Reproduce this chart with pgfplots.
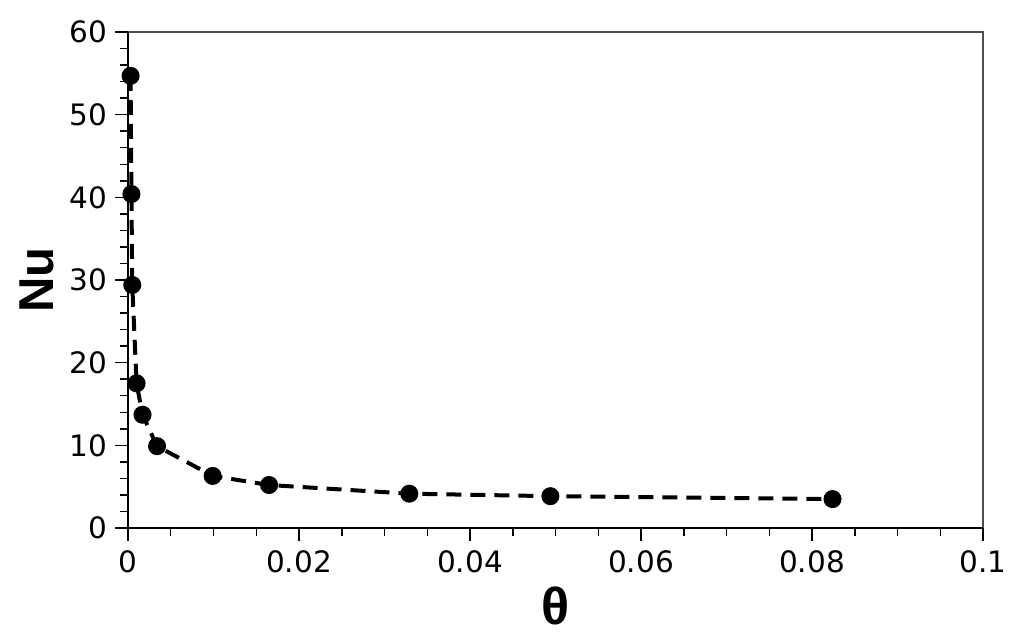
\documentclass[border=0pt]{standalone}
\usepackage{pgfplots}
\pgfplotsset{compat=1.18}
\usepackage{fontspec}
\setmainfont{DejaVu Sans}
\newfontfamily\labfont{Liberation Sans}
\begin{document}
\begin{tikzpicture}
\begin{axis}[
  at={(0,0)}, anchor=origin,
  scale only axis,
  width=855pt, height=496pt,
  xmin=0, xmax=0.1, ymin=0, ymax=60,
  xtick={0,0.02,0.04,0.06,0.08,0.1},
  xticklabels={0,0.02,0.04,0.06,0.08,0.1},
  ytick={0,10,20,30,40,50,60},
  minor x tick num=3, minor y tick num=4,
  tick align=outside, xtick pos=bottom, ytick pos=left,
  major tick length=13pt, minor tick length=8pt,
  every tick/.style={black, line width=1.5pt},
  axis line style={draw=none},
  /pgf/number format/assume math mode=true,
  tick label style={font=\fontsize{29.5}{31}\selectfont},
  xticklabel style={inner sep=0pt, yshift=-9pt},
  yticklabel style={inner sep=0pt, xshift=-8pt},
  xlabel={\labfont\bfseries θ},
  ylabel={\labfont\bfseries Nu},
  xlabel style={at={(rel axis cs:0.5,0)}, anchor=center, yshift=-78pt, font=\fontsize{52}{54}\selectfont},
  ylabel style={at={(rel axis cs:0,0.5)}, anchor=center, yshift=91pt, font=\fontsize{49}{51}\selectfont},
  clip=false,
]
\addplot[black, line width=4pt, dash pattern=on 15pt off 9pt,
  mark=*, mark size=7pt, mark options={solid, fill=black}]
  coordinates {
  (0.0003,54.7) (0.0004,40.4) (0.0005,29.4) (0.0010,17.5) (0.0017,13.7)
  (0.0034,9.9) (0.0099,6.3) (0.0165,5.2) (0.0329,4.15) (0.0494,3.85) (0.0824,3.5)
  };
\draw[black!70, line width=2pt] (rel axis cs:0,1) -- (rel axis cs:1,1) -- (rel axis cs:1,0);
\draw[black, line width=2.6pt] (rel axis cs:0,1) -- (rel axis cs:0,0) -- (rel axis cs:1,0);
\end{axis}
\pgfresetboundingbox
\path (-128pt,-116pt) rectangle (896pt,528pt);
\end{tikzpicture}
\end{document}
